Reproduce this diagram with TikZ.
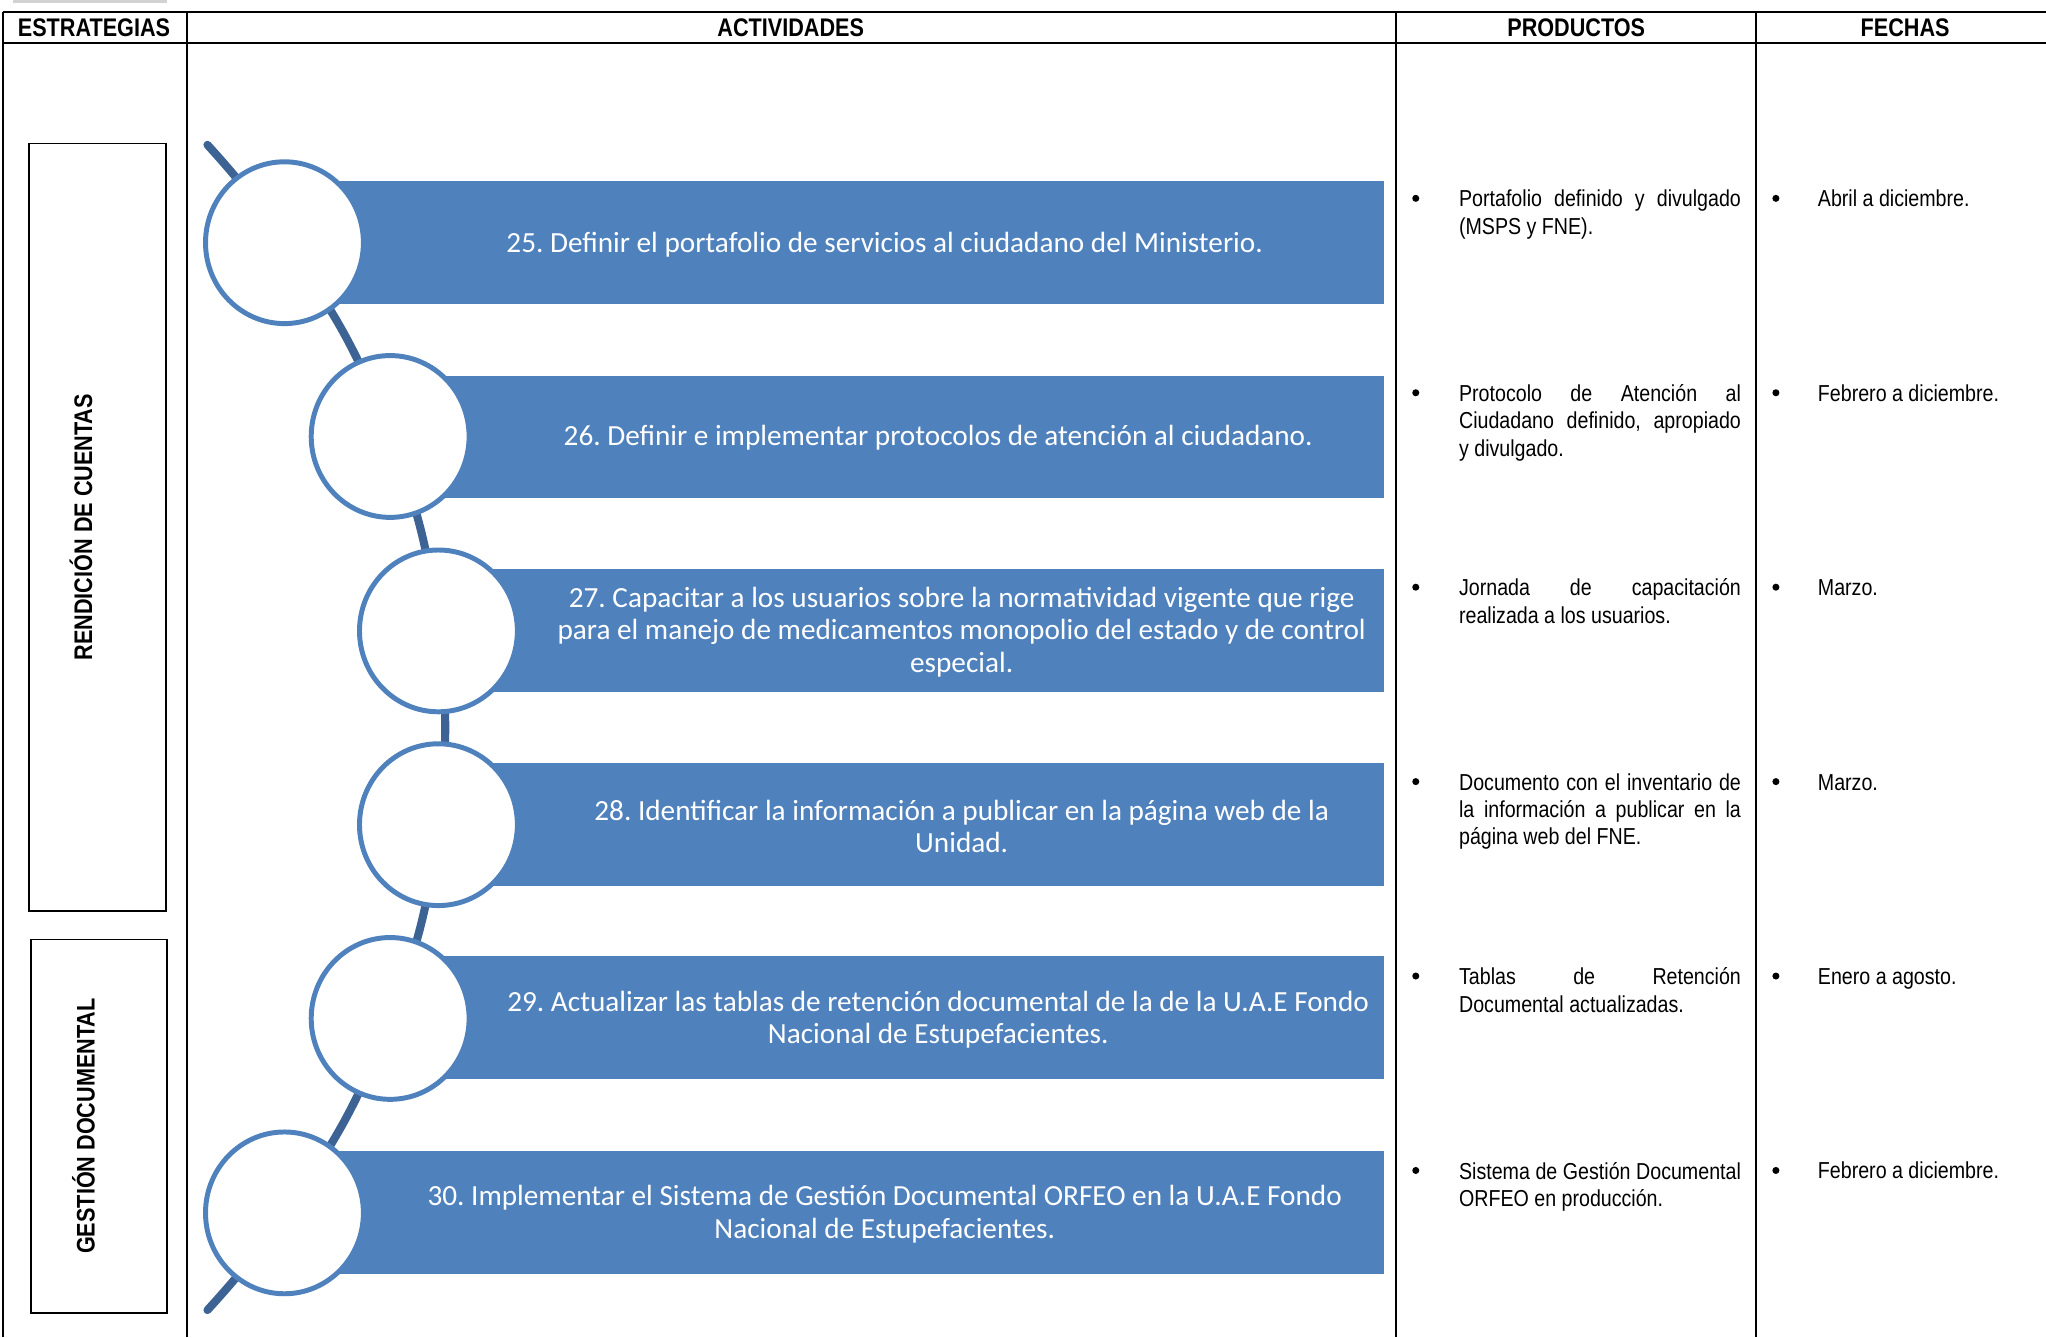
\documentclass[tikz,border=0pt]{standalone}
\usepackage{fontspec}
\setmainfont{Liberation Sans}
\newfontfamily\narrowfont[FakeStretch=0.85]{Liberation Sans}
\newfontfamily\barfont{Carlito}
\usetikzlibrary{shapes.geometric}
\pgfdeclarelayer{background}
\pgfsetlayers{background,main}
\definecolor{barblue}{RGB}{79,129,189}
\definecolor{linkblue}{RGB}{60,99,148}
\frenchspacing
\tikzset{
  rule/.style={line width=1.5pt, draw=black},
  hdr/.style={font=\narrowfont\bfseries\fontsize{19.5}{22}\selectfont, inner sep=0pt},
  stratbox/.style={draw=black, line width=1.3pt},
  stratlabel/.style={rotate=90, font=\narrowfont\bfseries\fontsize{19.5}{22}\selectfont, inner sep=0pt},
  barfill/.style={fill=barblue},
  bartext/.style={font=\barfont\fontsize{22.4}{25}\selectfont, text=white, align=center, inner sep=0pt},
  ring/.style={ellipse, draw=barblue, fill=white, line width=3.8pt, minimum width=121pt, minimum height=124pt, inner sep=0pt},
  link/.style={draw=linkblue, line width=6.2pt},
  prod/.style={font=\narrowfont\fontsize{17.7}{21}\selectfont, text width=216pt, align=justify, inner sep=0pt, anchor=north west},
  datetext/.style={font=\narrowfont\fontsize{17.7}{21}\selectfont, inner sep=0pt, anchor=base west},
  bul/.style={circle, fill=black, minimum size=5.4pt, inner sep=0pt},
}
\begin{document}
\begin{tikzpicture}[x=1pt, y=-1pt]
\useasboundingbox (0,0) rectangle (1568,1025);
% faint mark
\draw[gray!35, line width=2.5pt] (10,1) -- (128,1);
% table rules
\draw[rule] (2,9) -- (1568,9);
\draw[rule] (2,33) -- (1568,33);
\draw[rule] (2,9) -- (2,1025);
\draw[rule] (143,9) -- (143,1025);
\draw[rule] (1070,9) -- (1070,1025);
\draw[rule] (1346,9) -- (1346,1025);
% headers
\node[hdr] (h1) at (72,21) {ESTRATEGIAS};
\node[hdr] (h2) at (606,21) {ACTIVIDADES};
\node[hdr] (h3) at (1208,21) {PRODUCTOS};
\node[hdr] (h4) at (1460,21) {FECHAS};
% strategy boxes
\draw[stratbox] (22,110) rectangle (127,698);
\node[stratlabel] (s1) at (62,404) {RENDICIÓN DE CUENTAS};
\draw[stratbox] (24,720) rectangle (128,1006);
\node[stratlabel] (s2) at (64,863) {GESTIÓN DOCUMENTAL};
% bars
\begin{pgfonlayer}{background}
\fill[barfill] (218,139) rectangle (1061,233);
\fill[barfill] (299,288) rectangle (1061,382);
\fill[barfill] (336,436) rectangle (1061,530);
\fill[barfill] (336,585) rectangle (1061,679);
\fill[barfill] (299,733) rectangle (1061,827);
\fill[barfill] (218,882) rectangle (1061,976);
\end{pgfonlayer}
% circles
\node[ring] (c1) at (218,186) {};
\node[ring] (c2) at (299,334.5) {};
\node[ring] (c3) at (336,483.5) {};
\node[ring] (c4) at (336,632) {};
\node[ring] (c5) at (299,780.5) {};
\node[ring] (c6) at (218,929.5) {};
\coordinate (top) at (159,111);
\coordinate (bot) at (159,1004);
% connectors on the big arc
\begin{pgfonlayer}{background}
\draw[link, line cap=round] (top) to[bend left=4] (c1.center);
\draw[link] (c1.center) to[bend left=7.8] (c2.center);
\draw[link] (c2.center) to[bend left=7.1] (c3.center);
\draw[link] (c3.center) to[bend left=6.9] (c4.center);
\draw[link] (c4.center) to[bend left=7.1] (c5.center);
\draw[link] (c5.center) to[bend left=7.8] (c6.center);
\draw[link, line cap=round] (c6.center) to[bend left=4] (bot);
\end{pgfonlayer}
% bar texts
\node[bartext] (t1) at (678,187.5) {25. Definir el portafolio de servicios al ciudadano del Ministerio.};
\node[bartext] (t2) at (719,335.5) {26. Definir e implementar protocolos de atención al ciudadano.};
\node[bartext] (t3) at (737,484.5) {27. Capacitar a los usuarios sobre la normatividad vigente que rige\\para el manejo de medicamentos monopolio del estado y de control\\especial.};
\node[bartext] (t4) at (737,633.5) {28. Identificar la información a publicar en la página web de la\\Unidad.};
\node[bartext] (t5) at (719,781.5) {29. Actualizar las tablas de retención documental de la de la U.A.E Fondo\\Nacional de Estupefacientes.};
\node[bartext] (t6) at (678,930.5) {30. Implementar el Sistema de Gestión Documental ORFEO en la U.A.E Fondo\\Nacional de Estupefacientes.};
% products
\node[bul] (pb1) at (1085,152) {};
\node[prod] (p1) at (1118,145.5) {Portafolio definido y divulgado\linebreak (MSPS y FNE).};
\node[bul] (pb2) at (1085,301) {};
\node[prod] (p2) at (1118,294.5) {Protocolo de Atención al\linebreak Ciudadano definido, apropiado\linebreak y divulgado.};
\node[bul] (pb3) at (1085,450) {};
\node[prod] (p3) at (1118,443.5) {Jornada de capacitación\linebreak realizada a los usuarios.};
\node[bul] (pb4) at (1085,599) {};
\node[prod] (p4) at (1118,592.5) {Documento con el inventario de\linebreak la información a publicar en la\linebreak página web del FNE.};
\node[bul] (pb5) at (1085,748) {};
\node[prod] (p5) at (1118,741.5) {Tablas de Retención\linebreak Documental actualizadas.};
\node[bul] (pb6) at (1085,897) {};
\node[prod] (p6) at (1118,890.5) {Sistema de Gestión Documental\linebreak ORFEO en producción.};
% dates
\node[bul] (db1) at (1361,152) {};
\node[datetext] (d1) at (1393,158.5) {Abril a diciembre.};
\node[bul] (db2) at (1361,301) {};
\node[datetext] (d2) at (1393,307.5) {Febrero a diciembre.};
\node[bul] (db3) at (1361,450) {};
\node[datetext] (d3) at (1393,456.5) {Marzo.};
\node[bul] (db4) at (1361,599) {};
\node[datetext] (d4) at (1393,605.5) {Marzo.};
\node[bul] (db5) at (1361,748) {};
\node[datetext] (d5) at (1393,754.5) {Enero a agosto.};
\node[bul] (db6) at (1361,897) {};
\node[datetext] (d6) at (1393,903.5) {Febrero a diciembre.};
\end{tikzpicture}
\end{document}
